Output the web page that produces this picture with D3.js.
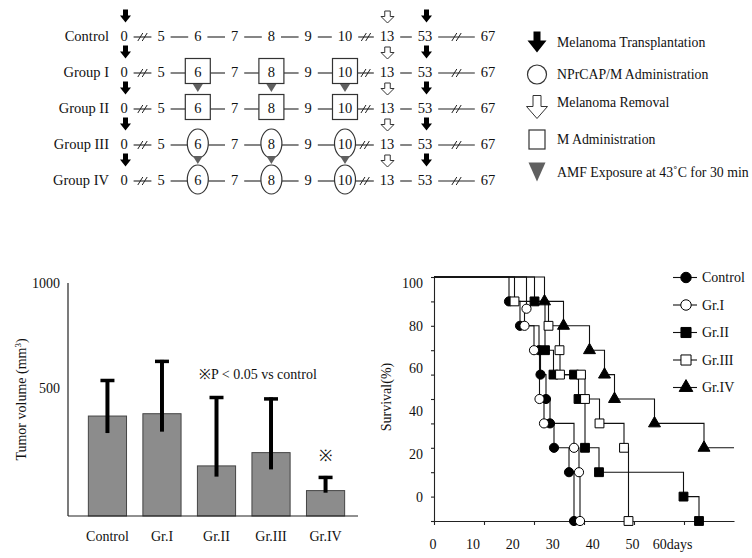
<!DOCTYPE html>
<html>
<head>
<meta charset="utf-8">
<script src="https://cdnjs.cloudflare.com/ajax/libs/d3/7.8.5/d3.min.js"></script>
<style>
    body { margin: 0; background: #fff; }
    svg { display: block; }
    svg text { font-family: "Liberation Serif", "DejaVu Serif", serif; fill: #111; }
</style>
</head>
<body>
<svg id="chart" width="752" height="558"></svg>
<script>
// ---- schedule ----
const groups = ['Control', 'Group I', 'Group II', 'Group III', 'Group IV'];
const days = [0, 5, 6, 7, 8, 9, 10, 13, 53, 67];
const treatDays = [6, 8, 10];
const treatShape = [null, 'square', 'square', 'circle', 'circle'];
const amfGroups = ['Group II', 'Group IV'];
const transplantDays = [0, 53];
const removalDays = [13];
const breaksAfter = [0, 10, 53];
const legendItems = [
    'Melanoma Transplantation',
    'NPrCAP/M Administration',
    'Melanoma Removal',
    'M Administration',
    'AMF Exposure at 43˚C for 30 min'
];
const legendKeys = ['transplant', 'nprcap', 'removal', 'm', 'amf'];

// ---- tumor volume ----
const barGroups = ['Control', 'Gr.I', 'Gr.II', 'Gr.III', 'Gr.IV'];
const tumorMean = [429, 439, 215, 272, 109];
const errTop = [588, 670, 515, 509, 172];
const errBottom = [356, 362, 169, 200, 100];
const volumeLabels = ['1000', '500'];

// ---- survival (day, % surviving) ----
const survGroups = ['Control', 'Gr.I', 'Gr.II', 'Gr.III', 'Gr.IV'];
const survControl = [[15.0, 90], [17.2, 80], [21.0, 70], [21.3, 60], [22.4, 50], [23.2, 40], [24.0, 30], [27.0, 20], [28.0, 0]];
const survGr1 = [[18.5, 87], [18.1, 80], [20.0, 70], [21.1, 50], [22.0, 40], [28.0, 30], [29.0, 20], [29.2, 0]];
const survGr2 = [[20.1, 90], [22.2, 70], [23.9, 60], [28.0, 60], [28.9, 50], [30.2, 30], [33.0, 20], [49.9, 10], [53.0, 0]];
const survGr3 = [[16.1, 90], [22.9, 80], [25.1, 70], [25.2, 60], [29.4, 60], [30.2, 50], [33.1, 40], [38.0, 30], [38.9, 0]];
const survGr4 = [[22.1, 90], [25.9, 80], [31.1, 70], [34.1, 60], [36.1, 50], [44.1, 40], [54.0, 30]];
const dayLabels = ['0', '10', '20', '30', '40', '50', '60days'];
const survLabels = ['100', '80', '60', '40', '20', '0'];

const SERIF = '"Liberation Serif", "DejaVu Serif", serif';
const svg = d3.select('#chart').attr('font-family', SERIF);

function blockArrow(w, h, shaftW, headH) {
    const p = d3.path();
    p.moveTo(-shaftW / 2, -h / 2);
    p.lineTo(shaftW / 2, -h / 2);
    p.lineTo(shaftW / 2, h / 2 - headH);
    p.lineTo(w / 2, h / 2 - headH);
    p.lineTo(0, h / 2);
    p.lineTo(-w / 2, h / 2 - headH);
    p.lineTo(-shaftW / 2, h / 2 - headH);
    p.closePath();
    return p.toString();
}

function downTriangle(w, h) {
    const p = d3.path();
    p.moveTo(-w / 2, -h / 2);
    p.lineTo(w / 2, -h / 2);
    p.lineTo(0, h / 2);
    p.closePath();
    return p.toString();
}

// ================= schedule =================
const rowY = d3.scalePoint().domain(groups).range([36, 180]);
// broken day axis
const dayX = d3.scaleLinear().domain([0, 5, 10, 13, 53, 67]).range([124, 161, 345, 387, 425, 488]);

const sched = svg.append('g').attr('font-size', 14.5).attr('font-family', SERIF);

groups.forEach((g, gi) => {
    const y = rowY(g);
    const shape = treatShape[gi];
    const row = sched.append('g');
    const boxed = (d) => shape && treatDays.includes(d);
    const halfW = (d) => boxed(d) ? (shape === 'square' ? 12.5 : 10.5) : String(d).length * 3.6 + 6;

    row.append('text')
        .attr('x', 109).attr('y', y).attr('dy', '0.35em')
        .attr('text-anchor', 'end')
        .text(g);

    // connectors between days
    d3.pairs(days).forEach(([a, b]) => {
        const x1 = dayX(a) + halfW(a);
        const x2 = dayX(b) - halfW(b);
        row.append('line')
            .attr('x1', x1).attr('x2', x2).attr('y1', y + 1).attr('y2', y + 1)
            .attr('stroke', '#222').attr('stroke-width', 1.1);

        if (breaksAfter.includes(a)) {
            const m = (x1 + x2) / 2;
            [-2.2, 2.2].forEach((dx) => {
                row.append('line')
                    .attr('x1', m + dx - 2.5).attr('y1', y + 5)
                    .attr('x2', m + dx + 2.5).attr('y2', y - 3)
                    .attr('stroke', '#222').attr('stroke-width', 1);
            });
        }
    });

    // treatment boxes / ellipses
    if (shape) {
        treatDays.forEach((d) => {
            if (shape === 'square') {
                row.append('rect')
                    .attr('x', dayX(d) - 12.5).attr('y', y - 13.5)
                    .attr('width', 25).attr('height', 25)
                    .attr('fill', '#fff').attr('stroke', '#333').attr('stroke-width', 1.2);
            } else {
                row.append('ellipse')
                    .attr('cx', dayX(d)).attr('cy', y - 0.5)
                    .attr('rx', 10.5).attr('ry', 14.5)
                    .attr('fill', '#fff').attr('stroke', '#333').attr('stroke-width', 1.2);
            }
        });
    }

    // day numbers
    row.selectAll('text.day')
        .data(days)
        .enter()
        .append('text')
        .attr('class', 'day')
        .attr('x', (d) => dayX(d)).attr('y', y).attr('dy', '0.35em')
        .attr('text-anchor', 'middle')
        .text((d) => d);

    // markers above the row
    row.selectAll('path.tp')
        .data(transplantDays)
        .enter()
        .append('path')
        .attr('d', blockArrow(11, 13, 5, 7))
        .attr('transform', (d) => `translate(${dayX(d) + 1.5}, ${y - 20})`)
        .attr('fill', '#000');

    row.selectAll('path.rm')
        .data(removalDays)
        .enter()
        .append('path')
        .attr('d', blockArrow(13, 12, 5.5, 6.5))
        .attr('transform', (d) => `translate(${dayX(d) + 0.5}, ${y - 19})`)
        .attr('fill', '#fff').attr('stroke', '#333').attr('stroke-width', 1);

    if (amfGroups.includes(g)) {
        row.selectAll('path.amf')
            .data(treatDays)
            .enter()
            .append('path')
            .attr('d', downTriangle(10, 8))
            .attr('transform', (d) => `translate(${dayX(d)}, ${y - 20})`)
            .attr('fill', '#606060');
    }
});

// schedule legend
const legY = d3.scalePoint().domain(legendItems).range([42, 172]);
const legX = 537;
const iconDraw = {
    transplant: (sel) => sel.append('path').attr('d', blockArrow(19, 21, 7, 12)).attr('fill', '#000'),
    nprcap: (sel) => sel.append('circle').attr('r', 9.5).attr('fill', '#fff').attr('stroke', '#333').attr('stroke-width', 1.2),
    removal: (sel) => sel.append('path').attr('d', blockArrow(21, 23, 8, 12)).attr('fill', '#fff').attr('stroke', '#333').attr('stroke-width', 1),
    m: (sel) => sel.append('rect').attr('x', -8).attr('y', -9.5).attr('width', 16).attr('height', 19).attr('fill', '#fff').attr('stroke', '#333').attr('stroke-width', 1.2),
    amf: (sel) => sel.append('path').attr('d', downTriangle(17, 19)).attr('fill', '#606060')
};

legendItems.forEach((item, i) => {
    const y = legY(item);
    const icon = sched.append('g').attr('transform', `translate(${legX}, ${y})`);
    iconDraw[legendKeys[i]](icon);
    sched.append('text')
        .attr('x', legX + 20).attr('y', legendKeys[i] === 'removal' ? y - 5 : y)
        .attr('dy', '0.35em')
        .attr('font-size', 13.8)
        .text(item);
});

// ================= tumor volume bar chart =================
const yVol = d3.scaleLinear().domain([0, 1000]).range([516, 283]);
const xBar = d3.scaleBand().domain(barGroups).range([72, 361]).paddingInner(0.3).paddingOuter(0.3);
const bars = svg.append('g').attr('font-size', 14).attr('font-family', SERIF);

bars.append('line')
    .attr('x1', 68).attr('x2', 68).attr('y1', yVol(0)).attr('y2', yVol(1000))
    .attr('stroke', '#222').attr('stroke-width', 1.2);

bars.selectAll('rect.bar')
    .data(barGroups)
    .enter()
    .append('rect')
    .attr('class', 'bar')
    .attr('x', (d) => xBar(d))
    .attr('y', (d, i) => yVol(tumorMean[i]))
    .attr('width', xBar.bandwidth())
    .attr('height', (d, i) => yVol(0) - yVol(tumorMean[i]))
    .attr('fill', '#8c8c8c').attr('stroke', '#444').attr('stroke-width', 1);

// error bars
bars.selectAll('line.err')
    .data(barGroups)
    .enter()
    .append('line')
    .attr('x1', (d) => xBar(d) + xBar.bandwidth() / 2)
    .attr('x2', (d) => xBar(d) + xBar.bandwidth() / 2)
    .attr('y1', (d, i) => yVol(errTop[i]))
    .attr('y2', (d, i) => yVol(errBottom[i]))
    .attr('stroke', '#000').attr('stroke-width', 4);

bars.selectAll('line.cap')
    .data(barGroups)
    .enter()
    .append('line')
    .attr('x1', (d) => xBar(d) + xBar.bandwidth() / 2 - 7)
    .attr('x2', (d) => xBar(d) + xBar.bandwidth() / 2 + 7)
    .attr('y1', (d, i) => yVol(errTop[i]) + 1.5)
    .attr('y2', (d, i) => yVol(errTop[i]) + 1.5)
    .attr('stroke', '#000').attr('stroke-width', 3.5);

bars.append('line')
    .attr('x1', 68).attr('x2', 358).attr('y1', yVol(0)).attr('y2', yVol(0))
    .attr('stroke', '#222').attr('stroke-width', 1.2);

// category labels
const barAxis = bars.append('g')
    .attr('transform', `translate(0, ${yVol(0)})`)
    .call(d3.axisBottom(xBar).tickSize(0).tickPadding(15));
barAxis.select('.domain').remove();

// value labels
const volLabelScale = d3.scalePoint().domain(volumeLabels).range([yVol(1000), yVol(550)]);
const volAxis = bars.append('g')
    .attr('transform', 'translate(68, 0)')
    .call(d3.axisLeft(volLabelScale).tickSize(0).tickPadding(8));
volAxis.select('.domain').remove();

bars.selectAll('g').attr('font-family', SERIF);
bars.selectAll('.tick text')
    .attr('font-size', 14)
    .attr('fill', '#111');

bars.append('text')
    .attr('transform', `translate(21, ${(yVol(0) + yVol(1000)) / 2}) rotate(-90)`)
    .attr('text-anchor', 'middle')
    .attr('dy', '0.35em')
    .call((t) => {
        t.append('tspan').text('Tumor volume (mm');
        t.append('tspan').attr('font-size', 9).attr('dy', '-0.6em').text('3');
        t.append('tspan').attr('dy', '0.4em').text(')');
    });

bars.append('text')
    .attr('x', 199).attr('y', 374).attr('dy', '0.35em')
    .text('※P < 0.05 vs control');

bars.append('text')
    .attr('x', xBar('Gr.IV') + xBar.bandwidth() / 2).attr('y', 455).attr('dy', '0.35em')
    .attr('text-anchor', 'middle').attr('font-size', 16)
    .text('※');

// ================= survival curves =================
const xDay = d3.scaleLinear().domain([0, 60]).range([434, 734]);
const ySurv = d3.scaleLinear().domain([0, 100]).range([521, 277]);
const survSeries = [survControl, survGr1, survGr2, survGr3, survGr4];
const survSymbols = [d3.symbolCircle, d3.symbolCircle, d3.symbolSquare, d3.symbolSquare, d3.symbolTriangle];
const survSymbolSize = [66, 66, 78, 78, 62];
const survFill = ['#000', '#fff', '#000', '#fff', '#000'];

const surv = svg.append('g').attr('font-size', 14).attr('font-family', SERIF);

// ticks
surv.append('g')
    .attr('transform', `translate(0, ${ySurv(0)})`)
    .call(d3.axisBottom(xDay).tickValues(d3.range(0, 60, 10)).tickSize(4).tickSizeOuter(0).tickFormat(''));
surv.append('g')
    .attr('transform', `translate(${xDay(0)}, 0)`)
    .call(d3.axisLeft(ySurv).tickValues(d3.range(0, 101, 10)).tickSize(3).tickSizeOuter(0).tickFormat(''));
surv.selectAll('.domain, .tick line').attr('stroke', '#222').attr('stroke-width', 1.1);

// tick labels
const dayLabelScale = d3.scalePoint().domain(dayLabels).range([xDay(-0.3), xDay(47.6)]);
const dayLabelAxis = surv.append('g')
    .attr('transform', `translate(0, ${ySurv(0)})`)
    .call(d3.axisBottom(dayLabelScale).tickSize(0).tickPadding(18));
dayLabelAxis.select('.domain').remove();

const survLabelScale = d3.scalePoint().domain(survLabels).range([ySurv(97.5), ySurv(10)]);
const survLabelAxis = surv.append('g')
    .attr('transform', `translate(${xDay(0)}, 0)`)
    .call(d3.axisLeft(survLabelScale).tickSize(0).tickPadding(11));
survLabelAxis.select('.domain').remove();

surv.selectAll('g').attr('font-family', SERIF);
surv.selectAll('.tick text')
    .attr('font-size', 14)
    .attr('fill', '#111');

surv.append('text')
    .attr('transform', `translate(386, 397) rotate(-90)`)
    .attr('text-anchor', 'middle')
    .attr('dy', '0.35em')
    .text('Survival(%)');

// step lines
const stepLine = d3.line()
    .x((d) => xDay(d[0]))
    .y((d) => ySurv(d[1]))
    .curve(d3.curveStepAfter);

survSeries.forEach((series) => {
    const pts = [[0, 100], ...series];
    const last = series[series.length - 1];
    if (last[1] > 0) pts.push([xDay.domain()[1], last[1]]);
    surv.append('path')
        .attr('d', stepLine(pts))
        .attr('fill', 'none').attr('stroke', '#111').attr('stroke-width', 1.1);
});

survSeries.forEach((series, i) => {
    surv.selectAll(null)
        .data(series)
        .enter()
        .append('path')
        .attr('d', d3.symbol(survSymbols[i], survSymbolSize[i]))
        .attr('transform', (d) => `translate(${xDay(d[0])}, ${ySurv(d[1])})`)
        .attr('fill', survFill[i]).attr('stroke', '#000').attr('stroke-width', 1);
});

// legend
const survLegY = d3.scalePoint().domain(survGroups).range([277.5, 387.5]);
survGroups.forEach((g, i) => {
    const y = survLegY(g);
    surv.append('line')
        .attr('x1', 673).attr('x2', 697).attr('y1', y).attr('y2', y)
        .attr('stroke', '#111').attr('stroke-width', 1.1);
    surv.append('path')
        .attr('d', d3.symbol(survSymbols[i], survSymbolSize[i] * 1.3))
        .attr('transform', `translate(686, ${y})`)
        .attr('fill', survFill[i]).attr('stroke', '#000').attr('stroke-width', 1);
    surv.append('text')
        .attr('x', 702).attr('y', y).attr('dy', '0.35em')
        .text(g);
});
</script>
</body>
</html>
